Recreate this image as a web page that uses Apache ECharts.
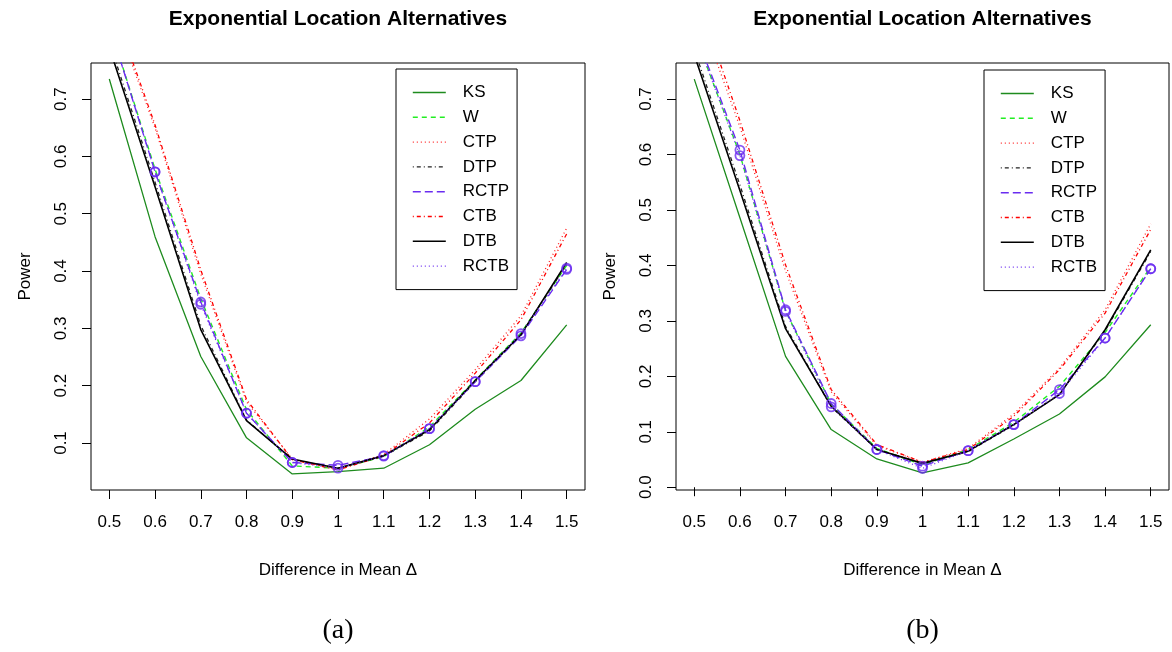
<!DOCTYPE html>
<html>
<head>
<meta charset="utf-8">
<script src="https://cdn.jsdelivr.net/npm/echarts@6/dist/echarts.min.js"></script>
<style>html,body{margin:0;padding:0;background:#fff;}#c{width:1172px;height:652px;}</style>
</head>
<body>
<div id="c"></div>
<script>
// ---- data ----
const xValues = [0.5, 0.6, 0.7, 0.8, 0.9, 1.0, 1.1, 1.2, 1.3, 1.4, 1.5];
const xTicks = [0.5, 0.6, 0.7, 0.8, 0.9, 1.0, 1.1, 1.2, 1.3, 1.4, 1.5];
const yTicksA = [0.1, 0.2, 0.3, 0.4, 0.5, 0.6, 0.7];
const yTicksB = [0.0, 0.1, 0.2, 0.3, 0.4, 0.5, 0.6, 0.7];
const methods = ['KS', 'W', 'CTP', 'DTP', 'RCTP', 'CTB', 'DTB', 'RCTB'];

// panel (a)
const KS_a   = [0.735, 0.460, 0.251, 0.109, 0.046, 0.050, 0.056, 0.097, 0.159, 0.209, 0.306];
const W_a    = [0.830, 0.578, 0.352, 0.158, 0.060, 0.056, 0.076, 0.128, 0.210, 0.292, 0.410];
const CTP_a  = [0.870, 0.650, 0.395, 0.172, 0.072, 0.054, 0.080, 0.142, 0.228, 0.322, 0.475];
const DTP_a  = [0.800, 0.555, 0.305, 0.140, 0.071, 0.056, 0.077, 0.121, 0.207, 0.289, 0.412];
const RCTP_a = [0.830, 0.573, 0.346, 0.152, 0.066, 0.061, 0.077, 0.125, 0.207, 0.287, 0.403];
const CTB_a  = [0.880, 0.655, 0.402, 0.176, 0.071, 0.053, 0.078, 0.135, 0.222, 0.315, 0.465];
const DTB_a  = [0.790, 0.547, 0.298, 0.139, 0.072, 0.056, 0.078, 0.123, 0.209, 0.289, 0.415];
const RCTB_a = [0.830, 0.573, 0.342, 0.152, 0.066, 0.056, 0.078, 0.125, 0.207, 0.291, 0.405];

// panel (b)
const KS_b   = [0.736, 0.486, 0.236, 0.104, 0.051, 0.026, 0.044, 0.087, 0.132, 0.199, 0.293];
const W_b    = [0.820, 0.600, 0.318, 0.150, 0.070, 0.040, 0.068, 0.117, 0.182, 0.279, 0.397];
const CTP_b  = [0.880, 0.650, 0.390, 0.172, 0.075, 0.045, 0.070, 0.132, 0.215, 0.320, 0.475];
const DTP_b  = [0.790, 0.545, 0.290, 0.145, 0.068, 0.043, 0.064, 0.112, 0.168, 0.282, 0.425];
const RCTP_b = [0.825, 0.608, 0.320, 0.151, 0.068, 0.038, 0.066, 0.113, 0.176, 0.269, 0.394];
const CTB_b  = [0.900, 0.661, 0.401, 0.176, 0.077, 0.045, 0.068, 0.128, 0.212, 0.314, 0.465];
const DTB_b  = [0.780, 0.535, 0.286, 0.146, 0.068, 0.043, 0.065, 0.113, 0.167, 0.284, 0.428];
const RCTB_b = [0.820, 0.598, 0.317, 0.145, 0.068, 0.034, 0.066, 0.113, 0.169, 0.269, 0.394];

const titleText = 'Exponential Location Alternatives';
const xName = 'Difference in Mean \u0394';
const yName = 'Power';
const captions = ['(a)', '(b)'];

// ---- styles ----
const FONT = '"Liberation Sans", Arial, Helvetica, sans-serif';
const PURPLE = '#6A2CF0';
const styles = {
  KS:   { color: '#1E8B1E', type: 'solid', width: 1.3 },
  W:    { color: '#22EE22', type: [5, 4], width: 1.4 },
  CTP:  { color: '#FF2020', type: [1, 3], width: 1.3 },
  DTP:  { color: '#222222', type: [1, 3, 4, 3], width: 1.3 },
  RCTP: { color: PURPLE, type: [8, 4], width: 1.4 },
  CTB:  { color: '#FF0000', type: [1, 3, 4, 3], width: 1.3 },
  DTB:  { color: '#000000', type: 'solid', width: 1.6 },
  RCTB: { color: PURPLE, type: [1, 3], width: 1.3 }
};
const panels = [
  { KS: KS_a, W: W_a, CTP: CTP_a, DTP: DTP_a, RCTP: RCTP_a, CTB: CTB_a, DTB: DTB_a, RCTB: RCTB_a },
  { KS: KS_b, W: W_b, CTP: CTP_b, DTP: DTP_b, RCTP: RCTP_b, CTB: CTB_b, DTB: DTB_b, RCTB: RCTB_b }
];
const grids = [
  { left: 91, top: 63, width: 494, height: 427, outerBoundsMode: 'none', show: true, borderColor: '#000', borderWidth: 1, backgroundColor: 'transparent' },
  { left: 676, top: 63, width: 493, height: 427, outerBoundsMode: 'none', show: true, borderColor: '#000', borderWidth: 1, backgroundColor: 'transparent' }
];
const yRanges = [[0.018, 0.763], [-0.005, 0.765]];
const yTicksList = [yTicksA, yTicksB];
const centers = [338, 922.5];

function pairs(arr) { return xValues.map((x, i) => [x, arr[i]]); }

const xAxes = [0, 1].map(p => ({
  type: 'value', gridIndex: p, min: 0.46, max: 1.54,
  name: xName, nameLocation: 'middle', nameGap: 72,
  nameTextStyle: { fontFamily: FONT, fontSize: 17, color: '#000' },
  axisLine: { show: false },
  splitLine: { show: false },
  axisTick: { show: true, customValues: xTicks, length: 9, inside: false, lineStyle: { color: '#000', width: 1 } },
  axisLabel: { customValues: xTicks, margin: 24, fontFamily: FONT, fontSize: 17, color: '#000',
    formatter: v => String(Math.round(v * 10) / 10) }
}));
const yAxes = [0, 1].map(p => ({
  type: 'value', gridIndex: p, min: yRanges[p][0], max: yRanges[p][1],
  name: yName, nameLocation: 'middle', nameGap: 57,
  nameTextStyle: { fontFamily: FONT, fontSize: 17, color: '#000' },
  axisLine: { show: false },
  splitLine: { show: false },
  axisTick: { show: true, customValues: yTicksList[p], length: 9, inside: false, lineStyle: { color: '#000', width: 1 } },
  axisLabel: { customValues: yTicksList[p], rotate: 90, margin: 21, fontFamily: FONT, fontSize: 17, color: '#000',
    formatter: v => (Math.round(v * 10) / 10).toFixed(1) }
}));

const series = [];
[0, 1].forEach(p => {
  methods.forEach((m, i) => {
    const st = styles[m];
    series.push({
      name: m, type: 'line', xAxisIndex: p, yAxisIndex: p,
      data: pairs(panels[p][m]), symbol: 'none', showSymbol: false, clip: true,
      lineStyle: { color: st.color, type: st.type, width: st.width },
      itemStyle: { color: st.color },
      z: 2 + i, animation: false
    });
  });
  ['RCTP', 'RCTB'].forEach(m => {
    series.push({
      name: m + ' points', type: 'scatter', xAxisIndex: p, yAxisIndex: p,
      data: pairs(panels[p][m]), symbol: 'circle', symbolSize: 9, clip: true,
      itemStyle: { color: 'rgba(0,0,0,0)', borderColor: PURPLE, borderWidth: 1.8 },
      z: 20, animation: false
    });
  });
});

const legendBase = {
  data: methods, orient: 'vertical', itemWidth: 33, itemHeight: 14, itemGap: 7.8,
  padding: [15, 8, 15, 16], borderColor: '#000', borderWidth: 1, borderRadius: 0, backgroundColor: '#fff',
  selectedMode: false,
  textStyle: { fontFamily: FONT, fontSize: 17, color: '#000', padding: [0, 0, 0, 12] },
  itemStyle: { opacity: 0, color: 'rgba(0,0,0,0)', borderColor: 'rgba(0,0,0,0)', borderWidth: 0 },
  lineStyle: { type: 'inherit', width: 'inherit', color: 'inherit' }
};
const legends = [
  Object.assign({}, legendBase, { left: 396, top: 69 }),
  Object.assign({}, legendBase, { left: 984, top: 70 })
];

const graphics = [];
[0, 1].forEach(p => {
  graphics.push({ type: 'text', x: centers[p], y: 19,
    style: { text: titleText, x: 0, y: 0, textAlign: 'center', textVerticalAlign: 'middle',
      font: 'bold 21px ' + FONT, fill: '#000' } });
  graphics.push({ type: 'text', x: centers[p], y: 631,
    style: { text: captions[p], x: 0, y: 0, textAlign: 'center', textVerticalAlign: 'middle',
      font: '28px "Liberation Serif", "Times New Roman", serif', fill: '#000' } });
});

const chart = echarts.init(document.getElementById('c'), null, { renderer: 'canvas' });
chart.setOption({
  animation: false,
  backgroundColor: '#fff',
  grid: grids,
  xAxis: xAxes,
  yAxis: yAxes,
  legend: legends,
  series: series,
  graphic: graphics
});
</script>
</body>
</html>
